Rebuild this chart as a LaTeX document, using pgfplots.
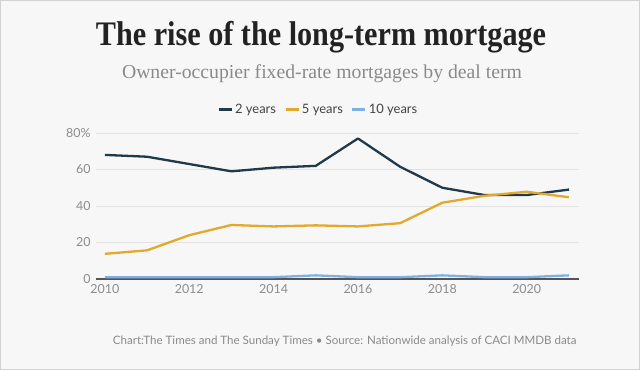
\documentclass[border=0pt]{standalone}
\usepackage{pgfplots}
\pgfplotsset{compat=1.18}
\usepackage{fontspec}
\setmainfont{Lato}
\newfontfamily\titlefont{Liberation Serif}
\definecolor{bg}{HTML}{F7F7F7}
\definecolor{titlec}{HTML}{222222}
\definecolor{subc}{HTML}{8A8A8A}
\definecolor{tickc}{HTML}{8C8C8C}
\definecolor{gridc}{HTML}{E3E3E3}
\definecolor{axisc}{HTML}{555555}
\definecolor{twoy}{HTML}{1F3A4B}
\definecolor{fivey}{HTML}{E2AA2C}
\definecolor{teny}{HTML}{7EB1E3}
\begin{document}
\begin{tikzpicture}[x=1bp,y=1bp]
\fill[bg] (0,0) rectangle (640,370);
\draw[gray!35,line width=0.8bp] (0.4,0.4) rectangle (639.6,369.6);
\node[font=\titlefont\bfseries\fontsize{30}{30}\selectfont, text=titlec, anchor=base] at (321,325) {\scalebox{1.01}[1.15]{The rise of the long-term mortgage}};
\node[font=\titlefont\fontsize{19.8}{19.8}\selectfont, text=subc, anchor=base] at (322,292) {Owner-occupier fixed-rate mortgages by deal term};
\begin{axis}[
  at={(96bp,91bp)}, anchor=south west,
  width=483bp, height=146bp, scale only axis,
  xmin=2009.79, xmax=2021.24, ymin=0, ymax=80,
  xtick={2010,2012,...,2020},
  xticklabels={2010,2012,2014,2016,2018,2020},
  ytick={0,20,40,60,80},
  yticklabels={0,20,40,60,80\%},
  axis x line*=bottom, axis y line*=left,
  y axis line style={draw=none},
  x axis line style={draw=axisc,line width=1.2bp,-},
  major tick length=0pt,
  ymajorgrids, grid style={gridc,line width=1bp},
  tick label style={font=\fontsize{12.5}{12.5}\selectfont, text=tickc},
  /pgf/number format/assume math mode=true,
  xticklabel style={yshift=-2bp},
  yticklabel style={xshift=-2bp},
  legend columns=3,
  legend style={at={(0.46,1.158)}, anchor=center, draw=none, fill=none,
    font=\fontsize{13}{13}\selectfont, text=titlec!85,
    /tikz/every even column/.append style={column sep=6bp}},
  legend image code/.code={\draw[#1,line width=3bp] (0bp,0bp) -- (13bp,0bp);},
  every axis plot/.append style={line width=2.3bp, line join=round, no marks},
]
\addplot[twoy] coordinates {(2010,68)(2011,67)(2012,63)(2013,59)(2014,61)(2015,62)(2016,77)(2017,61.5)(2018,50)(2019,46)(2020,46)(2021,49)};
\addplot[fivey] coordinates {(2010,13.8)(2011,15.7)(2012,24)(2013,29.6)(2014,28.8)(2015,29.4)(2016,28.8)(2017,30.6)(2018,41.8)(2019,45.6)(2020,47.8)(2021,44.8)};
\addplot[teny] coordinates {(2010,1)(2011,1)(2012,1)(2013,1)(2014,1)(2015,2)(2016,1)(2017,1)(2018,2)(2019,1)(2020,1)(2021,2)};
\legend{2 years,5 years,10 years}
\end{axis}
\node[font=\fontsize{11.6}{11.6}\selectfont, text=subc, anchor=base east] at (580,26) {Chart:The Times and The Sunday Times • Source: Nationwide analysis of CACI MMDB data};
\end{tikzpicture}
\end{document}
